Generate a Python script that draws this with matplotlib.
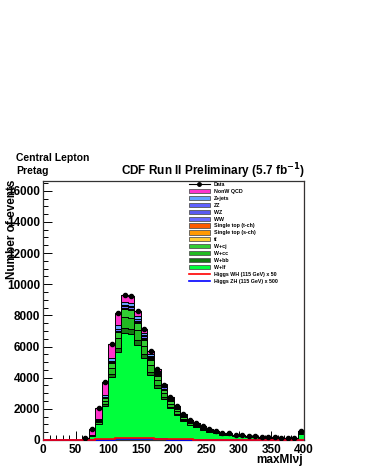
import numpy as np
import matplotlib.pyplot as plt
from matplotlib.patches import Patch
from matplotlib.lines import Line2D

plt.rcParams['font.family'] = ['Liberation Sans', 'DejaVu Sans']

# bin edges: 10 GeV bins from 0 to 400, the stack starts at 60
edges = np.arange(0, 410, 10)
edges_sig = np.arange(60, 410, 10)

data = [100, 700, 2080, 3750, 6150, 8120, 9320, 9250, 8290, 7110, 5700, 4580, 3560, 2780, 2200, 1650, 1290,
        1110, 900, 700, 580, 480, 420, 350, 320, 280, 250, 200, 180, 160, 140, 130, 120, 580]
qcd = [5, 380, 750, 860, 900, 770, 450, 440, 320, 250, 200, 150, 100, 80, 60, 45, 35, 30, 25, 20, 16, 14, 12,
       10, 9, 8, 7, 6, 5, 5, 4, 4, 4, 15]
zjets = [1, 20, 60, 110, 160, 200, 210, 200, 180, 150, 120, 90, 70, 55, 40, 30, 25, 20, 16, 13, 10, 9, 8, 7,
         6, 5, 5, 4, 3, 3, 3, 2, 2, 10]
zz = [0, 1, 3, 5, 8, 10, 12, 12, 11, 10, 8, 7, 5, 4, 3, 3, 2, 2, 2, 1, 1, 1, 1, 1, 1, 1, 1, 0, 0, 0, 0, 0, 0, 1]
wz = [0, 2, 8, 15, 25, 35, 40, 40, 38, 33, 27, 22, 17, 13, 10, 8, 6, 5, 4, 3, 3, 2, 2, 2, 2, 1, 1, 1, 1, 1, 1,
      1, 1, 3]
ww = [0, 5, 20, 40, 70, 100, 120, 125, 120, 110, 95, 80, 65, 52, 42, 33, 26, 22, 18, 14, 12, 10, 9, 7, 6, 6, 5,
      4, 4, 3, 3, 3, 2, 12]
stop_t = [0, 2, 6, 12, 20, 28, 34, 36, 36, 34, 30, 26, 22, 18, 15, 12, 10, 8, 7, 6, 5, 4, 4, 3, 3, 3, 2, 2, 2,
          2, 1, 1, 1, 6]
stop_s = [0, 1, 2, 4, 7, 10, 12, 13, 13, 12, 11, 10, 8, 7, 6, 5, 4, 3, 3, 2, 2, 2, 1, 1, 1, 1, 1, 1, 1, 1, 0, 0,
          0, 3]
ttbar = [0, 2, 6, 12, 22, 35, 50, 60, 70, 78, 80, 78, 72, 64, 56, 48, 40, 34, 28, 23, 19, 16, 14, 12, 10, 9, 8,
         7, 6, 5, 5, 4, 4, 20]
wcj = [2, 17, 74, 162, 296, 416, 504, 500, 450, 386, 308, 247, 192, 149, 118, 88, 69, 59, 48, 37, 31, 25, 22,
       18, 17, 15, 13, 11, 9, 8, 7, 7, 6, 31]
wcc = [3, 24, 104, 229, 420, 589, 713, 708, 638, 547, 436, 350, 272, 212, 167, 125, 97, 84, 68, 53, 44, 36, 31,
       26, 24, 21, 19, 15, 13, 12, 10, 10, 9, 43]
wbb = [1, 11, 49, 108, 198, 277, 336, 333, 300, 257, 205, 165, 128, 100, 79, 59, 46, 39, 32, 25, 20, 17, 15, 12,
       11, 10, 9, 7, 6, 6, 5, 5, 4, 20]
wlf = [20, 235, 998, 2193, 4024, 5650, 6839, 6783, 6114, 5243, 4180, 3355, 2611, 2029, 1604, 1194, 930, 803,
       649, 503, 417, 344, 301, 251, 230, 200, 179, 142, 130, 114, 101, 93, 87, 416]

higgs_wh = [0, 0, 0, 0, 0, 0, 5, 20, 45, 70, 95, 115, 130, 135, 130, 120, 105, 90, 75, 60, 50, 40, 32, 26, 21,
            17, 14, 11, 9, 7, 6, 5, 4, 3, 3, 2, 2, 2, 1, 5]
higgs_zh = [0, 0, 0, 0, 0, 0, 0, 2, 8, 18, 28, 38, 45, 50, 52, 50, 46, 40, 34, 28, 23, 19, 15, 12, 10, 8, 6, 5,
            4, 3, 3, 2, 2, 2, 1, 1, 1, 1, 1, 3]

# bottom -> top of the stack
stack = [wlf, wbb, wcc, wcj, ttbar, stop_s, stop_t, ww, wz, zz, zjets, qcd]
colors = ['#00ff3c', '#137a13', '#22bb22', '#33cc33', '#ffcc33', '#ff9900', '#ff5a00',
          '#6a6aff', '#5a5af0', '#6060ff', '#66a0ff', '#ff33cc']
labels = ['W+lf', 'W+bb', 'W+cc', 'W+cj', 't\u0304t', 'Single top (s-ch)', 'Single top (t-ch)',
          'WW', 'WZ', 'ZZ', 'Z+jets', 'NonW QCD']

fig = plt.figure(figsize=(3.65, 4.73), dpi=100)
ax = fig.add_axes([0.118, 0.0698, 0.715, 0.548])

centers = (edges_sig[:-1] + edges_sig[1:]) / 2
ax.hist([centers] * len(stack), bins=edges_sig, weights=stack, stacked=True, histtype='stepfilled',
        color=colors, edgecolor='black', linewidth=0.7, zorder=2)

ax.stairs(higgs_zh, edges, color='blue', lw=1.2, zorder=4, clip_on=False)
ax.stairs(higgs_wh, edges, color='red', lw=1.2, zorder=4, clip_on=False)

d = np.array(data, dtype=float)
ax.errorbar(centers, d, xerr=5, yerr=np.sqrt(d), fmt='o', color='black', ms=3, lw=0.8,
            capsize=0, zorder=5)

ax.axvline(400, color='#ff6666', lw=0.8, zorder=3)

ax.set_xlim(0, 400)
ax.set_ylim(0, 16640)
ax.set_xticks(np.arange(0, 401, 50))
ax.set_xticks(np.arange(0, 401, 10), minor=True)
ax.set_yticks(np.arange(0, 16001, 2000))
ax.set_yticks(np.arange(0, 16600, 500), minor=True)
ax.tick_params(which='both', direction='in', top=False, right=False, labelsize=8.5, width=0.7)
ax.tick_params(which='major', length=6.5)
ax.tick_params(which='minor', length=3.3)
ax.tick_params(axis='y', pad=2)
ax.tick_params(axis='x', pad=3)
for lab in ax.get_xticklabels() + ax.get_yticklabels():
    lab.set_fontweight('bold')
for s in ax.spines.values():
    s.set_linewidth(0.9)
    s.set_color('#333333')

fig.text(0.034, 1 - 180 / 473, 'Number of events', rotation=90, ha='center', va='top',
         fontsize=8.5, fontweight='bold')
fig.text(0.830, 1 - 460 / 473, 'maxMl\u03bdj', ha='right', va='center', fontsize=8.5, fontweight='bold')
fig.text(0.584, 1 - 171 / 473, 'CDF Run II Preliminary (5.7 fb$^{\\mathbf{-1}}$)', ha='center', va='center',
         fontsize=8.5, fontweight='bold')
fig.text(0.044, 1 - 158 / 473, 'Central Lepton', ha='left', va='center', fontsize=7.5, fontweight='bold')
fig.text(0.044, 1 - 171 / 473, 'Pretag', ha='left', va='center', fontsize=7.5, fontweight='bold')

handles = [Line2D([], [], color='black', marker='o', ms=2.5, lw=0.8)]
leg_labels = ['Data']
for c, l in zip(colors[::-1], labels[::-1]):
    handles.append(Patch(facecolor=c, edgecolor='#555555', lw=0.6))
    leg_labels.append(l)
handles.append(Line2D([], [], color='red', lw=1.2))
leg_labels.append('Higgs WH (115 GeV) x 50')
handles.append(Line2D([], [], color='blue', lw=1.2))
leg_labels.append('Higgs ZH (115 GeV) x 500')

leg = fig.legend(handles, leg_labels, loc='upper left', bbox_to_anchor=(189 / 365, 1 - 182 / 473),
                 frameon=False, fontsize=3.8, handlelength=3.9, handleheight=0.85, handletextpad=0.8,
                 labelspacing=0.36, borderpad=0, borderaxespad=0)
for t in leg.get_texts():
    t.set_fontweight('bold')

fig.savefig('out.png', dpi=100)
